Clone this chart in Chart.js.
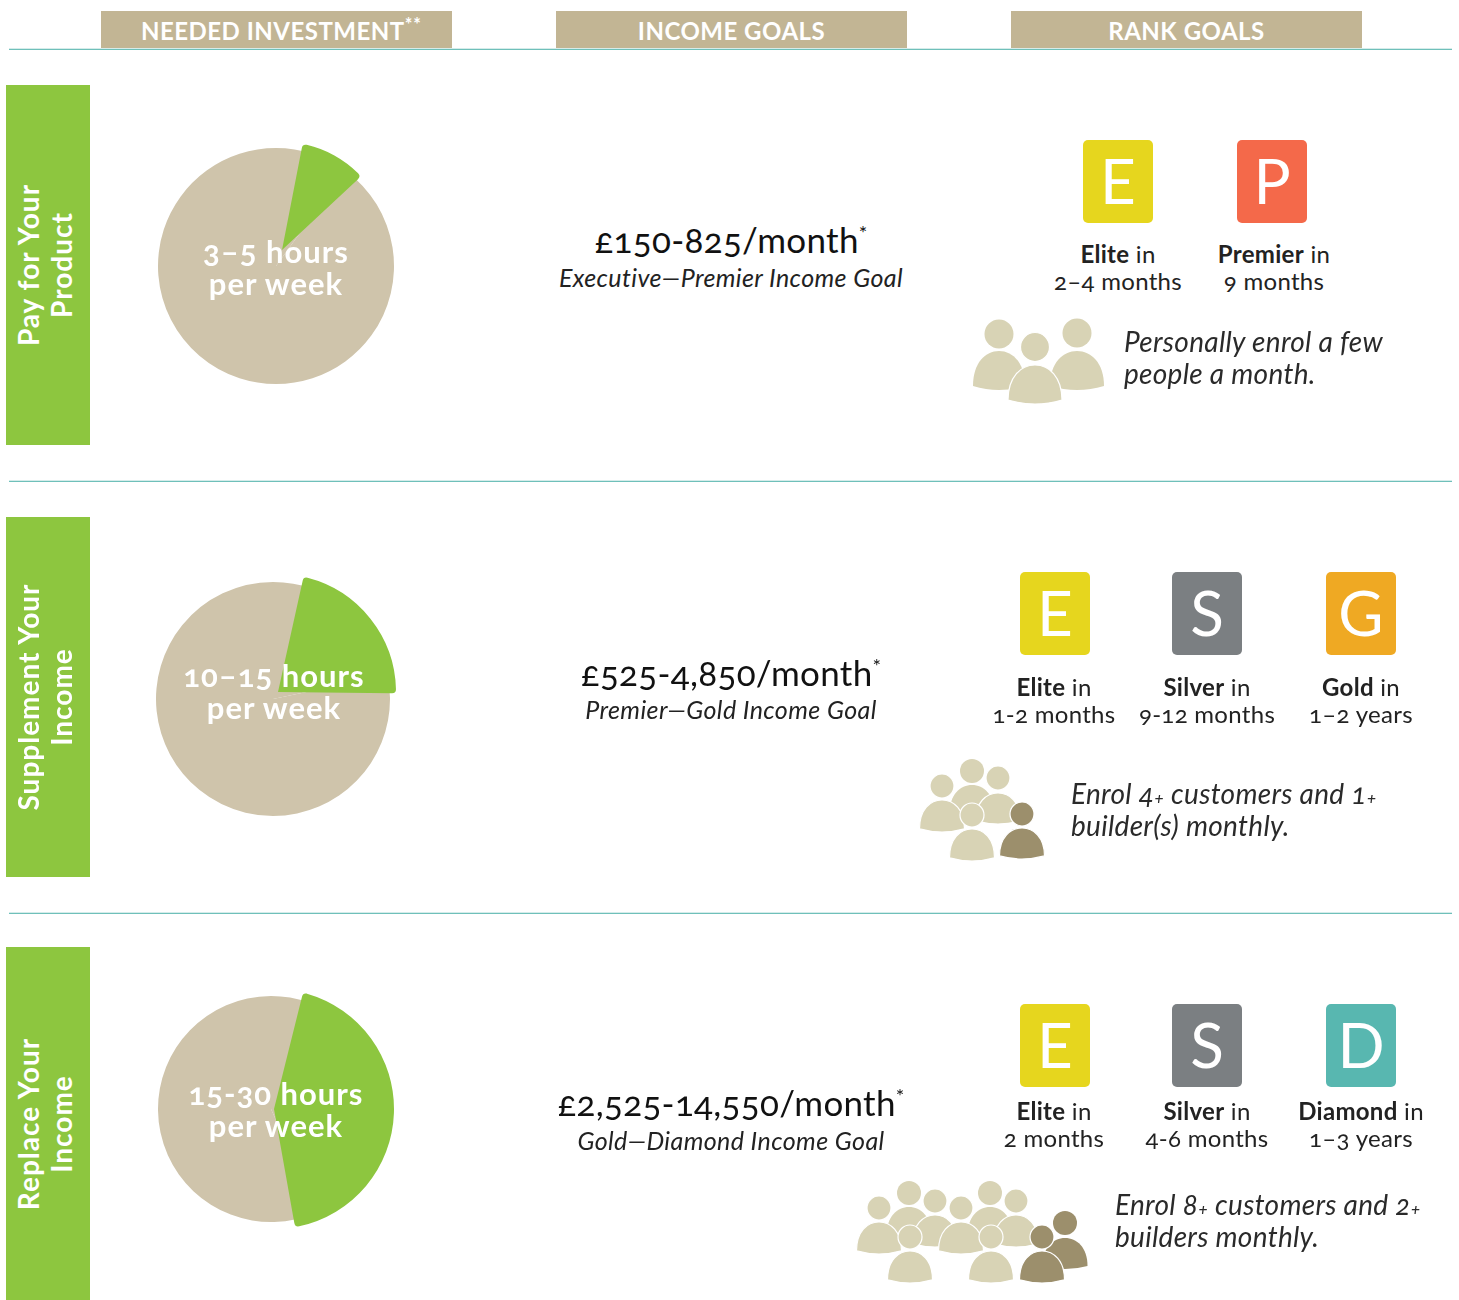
<!DOCTYPE html>
<html>
<head>
<meta charset="utf-8">
<script src="https://cdn.jsdelivr.net/npm/chart.js@4"></script>
<style>
    html, body { margin: 0; background: #fff; }
    #page { position: relative; width: 1459px; height: 1300px; overflow: hidden; font-family: Lato, sans-serif; color: #111; font-variant-numeric: oldstyle-nums; }
    #page > * { position: absolute; }
    .rule { left: 9px; width: 1443px; height: 1px; background: #6fc0ba; box-shadow: 0 -1px 0 #d5ecea; }
    .head { top: 11px; width: 351px; height: 37px; line-height: 39px; background: #c2b594; color: #fff; font-weight: 700; font-size: 24px; letter-spacing: 0.5px; text-align: center; }
    .head sup { font-size: 18px; letter-spacing: 1px; line-height: 0; margin-right: -10px; }
    .side { left: 6px; width: 84px; background: #8dc63f; }
    .side span { position: absolute; left: 39px; top: 50%; width: 340px; transform: translate(-50%, -50%) rotate(-90deg); color: #fff; font-weight: 700; font-size: 28px; letter-spacing: 1px; line-height: 33px; text-align: center; }
    .hours { width: 240px; text-align: center; color: #fff; font-weight: 700; font-size: 31px; letter-spacing: 1px; line-height: 32px; white-space: nowrap; }
    .income { left: 531px; width: 400px; text-align: center; font-size: 35px; letter-spacing: 0.3px; line-height: 40px; white-space: nowrap; }
    .income sup { font-size: 20px; line-height: 0; }
    .note { left: 531px; width: 400px; text-align: center; font-style: italic; font-size: 25px; letter-spacing: 0.4px; line-height: 30px; color: #222; white-space: nowrap; }
    .badge { width: 70px; height: 83px; line-height: 81px; border-radius: 5px; text-align: center; color: #fff; font-weight: 400; font-size: 62px; }
    .rank { width: 170px; text-align: center; font-size: 24px; letter-spacing: 0.3px; line-height: 27px; color: #222; white-space: nowrap; }
    .rank b { font-weight: 700; }
    .tip { font-style: italic; font-weight: 400; font-size: 28px; letter-spacing: 0.3px; line-height: 32px; color: #2a2a2a; white-space: nowrap; }
    .tip small { font-size: 18px; line-height: 0; }
</style>
</head>
<body>
<div id="page"></div>
<script>
// Donnees
const headers = ['NEEDED INVESTMENT<sup>**</sup>', 'INCOME GOALS', 'RANK GOALS'];
const rowTitles = ['Pay for Your<br>Product', 'Supplement Your<br>Income', 'Replace Your<br>Income'];
const hoursLabels = ['3–5 hours<br>per week', '10–15 hours<br>per week', '15-30 hours<br>per week'];
const investedShare = [10, 21.7, 43.3];
const remainingShare = [90, 78.3, 56.7];
const incomeRanges = ['£150-825/month', '£525-4,850/month', '£2,525-14,550/month'];
const incomeNotes = ['Executive—Premier Income Goal', 'Premier—Gold Income Goal', 'Gold—Diamond Income Goal'];
const rankNames = [['Elite', 'Premier'], ['Elite', 'Silver', 'Gold'], ['Elite', 'Silver', 'Diamond']];
const rankTimes = [['2–4 months', '9 months'], ['1-2 months', '9-12 months', '1–2 years'], ['2 months', '4-6 months', '1–3 years']];
const tips = ['Personally enrol a few<br>people a month.',
    'Enrol 4<small>+</small> customers and 1<small>+</small><br>builder(s) monthly.',
    'Enrol 8<small>+</small> customers and 2<small>+</small><br>builders monthly.'];

const rankColors = { Elite: '#e6d61e', Premier: '#f4694a', Silver: '#7b7f82', Gold: '#efa923', Diamond: '#58b7b0' };
const BEIGE = '#cfc4ab', GREEN = '#8dc63f', LIGHT = '#d8d3b5', DARK = '#9c8f6c';

// Mise en page de chaque rangee
const rows = [
    { lineY: 481, side: [85, 360], disc: [276, 266, 118], wedge: [282, 250, 108, 11], hoursAt: [276, 235], income: 219, note: 262, badgeY: 140, badgeX: [1118, 1272], rankY: 240, rankX: [1118, 1274], tipAt: [1124, 325] },
    { lineY: 913, side: [517, 360], disc: [272.5, 699, 117], wedge: [278, 692, 118, 12.5], hoursAt: [274, 659], income: 652, note: 694, badgeY: 572, badgeX: [1055, 1207, 1361], rankY: 673, rankX: [1054, 1207, 1361], tipAt: [1071, 777] },
    { lineY: null, side: [947, 353], disc: [271, 1109, 113], wedge: [274, 1109, 120, 14], hoursAt: [276, 1077], income: 1082, note: 1125, badgeY: 1004, badgeX: [1055, 1207, 1361], rankY: 1097, rankX: [1054, 1207, 1361], tipAt: [1115, 1188] }
];

// Icones de personnes: [tete x, tete y, rayon tete, haut du corps, largeur, hauteur, couleur, contour]
const people = [
    [[999, 334, 14.5, 351, 52, 39, LIGHT, 0], [1077, 333, 14.5, 351, 54, 39, LIGHT, 0], [1035, 347, 14.5, 365, 54, 39, LIGHT, 1]],
    [[972, 771, 12, 785, 45, 32, LIGHT, 0], [998, 778, 12, 793, 45, 31, LIGHT, 1], [942, 786, 12, 800, 45, 32, LIGHT, 1],
     [972, 815, 12, 829, 45, 32, LIGHT, 1], [1022, 814, 12, 828, 45, 31, DARK, 1]],
    [[909, 1193, 12, 1207, 45, 32, LIGHT, 0], [935, 1201, 12, 1215, 45, 32, LIGHT, 1], [879, 1208, 12, 1222, 45, 32, LIGHT, 1],
     [990, 1193, 12, 1207, 45, 32, LIGHT, 0], [1016, 1201, 12, 1215, 45, 32, LIGHT, 1], [961, 1208, 12, 1222, 45, 32, LIGHT, 1],
     [910, 1237, 12, 1251, 45, 32, LIGHT, 1], [991, 1237, 12, 1251, 45, 32, LIGHT, 1],
     [1065, 1223, 12, 1238, 45, 31, DARK, 0], [1042, 1237, 12, 1251, 45, 32, DARK, 1]]
];

const page = document.getElementById('page');

function addBox(className, left, top, html) {
    const el = document.createElement('div');
    el.className = className;
    if (left !== null) el.style.left = left + 'px';
    if (top !== null) el.style.top = top + 'px';
    el.innerHTML = html || '';
    page.appendChild(el);
    return el;
}

function addPie(cx, cy, radius, rotation, values, colors, corner) {
    const size = Math.ceil(radius * 2) + 4;
    const canvas = document.createElement('canvas');
    canvas.style.left = (cx - size / 2) + 'px';
    canvas.style.top = (cy - size / 2) + 'px';
    canvas.style.width = size + 'px';
    canvas.style.height = size + 'px';
    canvas.width = size;
    canvas.height = size;
    page.appendChild(canvas);
    return new Chart(canvas.getContext('2d'), {
        type: 'pie',
        data: {
            labels: ['Invested', 'Remaining'],
            datasets: [{ data: values, backgroundColor: colors, borderWidth: 0, borderRadius: corner }]
        },
        options: {
            responsive: false,
            animation: false,
            radius: radius,
            rotation: rotation,
            layout: { padding: 0 },
            plugins: { legend: { display: false }, tooltip: { enabled: false } }
        }
    });
}

function addPeople(group) {
    const ns = 'http://www.w3.org/2000/svg';
    const svg = document.createElementNS(ns, 'svg');
    svg.setAttribute('width', 1459);
    svg.setAttribute('height', 1300);
    svg.style.left = '0';
    svg.style.top = '0';
    let out = '';
    group.forEach(([hx, hy, hr, top, w, h, color, outlined]) => {
        const line = outlined ? 'stroke="#fff" stroke-width="1.2"' : '';
        const l = hx - w / 2, r = hx + w / 2, base = top + h * 0.9;
        out += `<circle cx="${hx}" cy="${hy}" r="${hr}" fill="${color}" ${line}/>`;
        out += `<path d="M${l} ${base} C${l} ${top + h * 0.3} ${hx - w * 0.26} ${top} ${hx} ${top} C${hx + w * 0.26} ${top} ${r} ${top + h * 0.3} ${r} ${base} Q${hx} ${top + h * 1.1} ${l} ${base}Z" fill="${color}" ${line}/>`;
    });
    svg.innerHTML = out;
    page.appendChild(svg);
}

[101, 556, 1011].forEach((x, i) => addBox('head', x, null, headers[i]));
addBox('rule', null, 49);

rows.forEach((row, i) => {
    if (row.lineY) addBox('rule', null, row.lineY);

    const side = addBox('side', null, row.side[0], `<span>${rowTitles[i]}</span>`);
    side.style.height = row.side[1] + 'px';

    // Disque complet puis part verte decalee par-dessus
    const values = [investedShare[i], remainingShare[i]];
    addPie(row.disc[0], row.disc[1], row.disc[2], 0, values, [BEIGE, BEIGE], 0);
    addPie(row.wedge[0], row.wedge[1], row.wedge[2], row.wedge[3], values, [GREEN, 'rgba(0,0,0,0)'], 4);
    addBox('hours', row.hoursAt[0] - 120, row.hoursAt[1], hoursLabels[i]);

    addBox('income', null, row.income, incomeRanges[i] + '<sup>*</sup>');
    addBox('note', null, row.note, incomeNotes[i]);

    rankNames[i].forEach((name, j) => {
        const badge = addBox('badge', row.badgeX[j] - 35, row.badgeY, name[0]);
        badge.style.background = rankColors[name];
        addBox('rank', row.rankX[j] - 85, row.rankY, `<b>${name}</b> in<br>${rankTimes[i][j]}`);
    });

    addPeople(people[i]);
    addBox('tip', row.tipAt[0], row.tipAt[1], tips[i]);
});
</script>
</body>
</html>
